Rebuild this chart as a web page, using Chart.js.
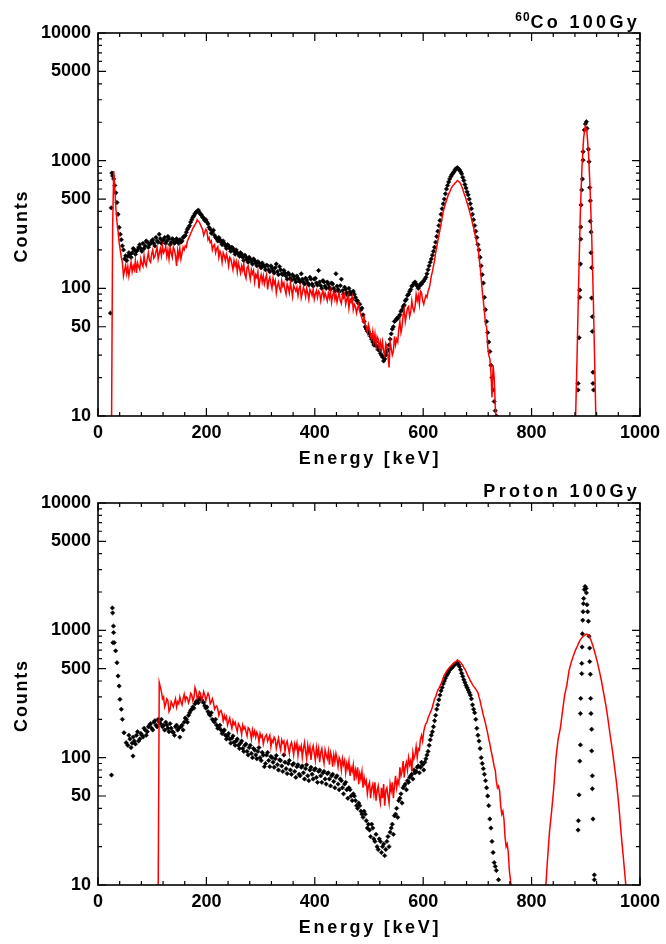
<!DOCTYPE html>
<html>
<head>
<meta charset="utf-8">
<script src="https://cdn.jsdelivr.net/npm/chart.js@4.4.1/dist/chart.umd.min.js"></script>
<style>
  body { margin: 0; background: #fff; }
  canvas { display: block; }
</style>
</head>
<body>
<canvas id="chartCo" width="666" height="470"></canvas>
<canvas id="chartPro" width="666" height="474"></canvas>
<script>
// axes
var xLabels = [0, 200, 400, 600, 800, 1000]
var xMinor = [40, 80, 120, 160, 240, 280, 320, 360, 440, 480, 520, 560, 640, 680, 720, 760, 840, 880, 920, 960]
var yLabels = [10, 50, 100, 500, 1000, 5000, 10000]
var yMinor = [20, 30, 40, 60, 70, 80, 90, 200, 300, 400, 600, 700, 800, 900, 2000, 3000, 4000, 6000, 7000, 8000, 9000]

// 60Co 100Gy - red spectrum, every 2 keV from 25 keV
var coRedStart = 25
var coRed = [8, 300, 830, 600, 420, 330, 280, 230, 200, 175,
  160, 125, 138, 152, 130, 148, 125, 142, 160, 135,
  150, 140, 165, 132, 158, 148, 140, 170, 155, 148,
  180, 158, 150, 172, 190, 165, 160, 185, 200, 172,
  178, 195, 210, 170, 188, 205, 180, 215, 190, 198,
  212, 178, 200, 170, 208, 190, 175, 210, 200, 180,
  150, 198, 175, 205, 170, 188, 210, 200, 215, 210,
  235, 245, 255, 270, 280, 295, 305, 315, 325, 345,
  335, 330, 315, 300, 290, 260, 275, 290, 280, 240,
  250, 228, 235, 200, 215, 220, 190, 205, 212, 175,
  195, 185, 160, 190, 180, 165, 185, 172, 150, 175,
  170, 155, 140, 165, 150, 162, 135, 158, 145, 132,
  150, 138, 155, 128, 120, 145, 150, 132, 118, 140,
  130, 138, 112, 128, 122, 135, 100, 118, 128, 112,
  125, 108, 118, 128, 98, 115, 122, 110, 100, 120,
  108, 115, 92, 105, 112, 100, 95, 115, 104, 110,
  98, 90, 108, 102, 92, 110, 98, 86, 105, 100,
  95, 102, 88, 100, 105, 84, 92, 102, 96, 86,
  100, 92, 82, 98, 94, 88, 98, 82, 90, 96,
  85, 95, 92, 80, 90, 96, 84, 92, 86, 80,
  92, 84, 95, 78, 88, 94, 82, 90, 78, 86,
  92, 80, 76, 88, 84, 90, 75, 82, 88, 70,
  82, 78, 85, 68, 75, 72, 64, 70, 75, 66,
  62, 58, 55, 60, 52, 50, 45, 52, 48, 42,
  40, 46, 38, 44, 36, 42, 40, 34, 38, 33,
  38, 32, 30, 37, 35, 30, 24, 38, 34, 30,
  32, 42, 36, 40, 38, 48, 55, 45, 50, 62,
  68, 55, 62, 70, 72, 60, 65, 80, 70, 66,
  72, 90, 80, 88, 75, 95, 92, 80, 75, 82,
  88, 85, 95, 100, 110, 125, 135, 150, 165, 190,
  210, 235, 260, 290, 320, 360, 400, 430, 460, 490,
  520, 550, 570, 600, 620, 640, 650, 670, 680, 700,
  690, 680, 660, 630, 600, 560, 530, 500, 465, 440,
  410, 380, 355, 325, 300, 270, 250, 225, 215, 175,
  150, 120, 95, 80, 65, 52, 50, 35, 30, 28,
  22, 14, 25, 20, 12, 9, 6]
var coRedPeak = [[881, 9], [884, 30], [887, 120], [890, 400], [893, 900], [896, 1500], [899, 1860],
  [902, 1700], [905, 1150], [908, 600], [911, 250], [914, 80], [917, 20], [919, 8]]

// 60Co 100Gy - black points (two interleaved channel sets, 4 keV apart each)
var coDotsLead = [[23, 64], [24.4, 427], [25.6, 800]]
var coDotsStart = 27
var coDots = [760, 640, 470, 300, 240, 200, 180, 178, 185, 190,
  200, 195, 210, 205, 225, 215, 230, 220, 235, 225,
  250, 230, 245, 235, 250, 235, 245, 230, 240, 230,
  235, 240, 235, 255, 275, 300, 330, 360, 385, 400,
  395, 375, 355, 345, 320, 290, 275, 260, 245, 250,
  230, 235, 215, 220, 205, 210, 195, 200, 185, 190,
  175, 182, 168, 175, 162, 170, 158, 162, 150, 158,
  148, 152, 140, 150, 138, 145, 135, 148, 130, 138,
  125, 132, 120, 128, 118, 125, 115, 130, 112, 120,
  110, 122, 108, 118, 110, 138, 105, 115, 104, 112,
  102, 110, 100, 130, 98, 105, 96, 102, 92, 100,
  90, 95, 85, 80, 75, 70, 55, 48, 46, 42,
  38, 36, 35, 33, 30, 27, 30, 33, 40, 48,
  55, 58, 60, 66, 72, 80, 88, 95, 104, 110,
  108, 100, 108, 112, 118, 130, 150, 170, 195, 230,
  280, 340, 420, 500, 600, 680, 750, 800, 850, 880,
  850, 790, 700, 610, 540, 460, 380, 310, 250, 200,
  150, 110, 68, 45, 32, 20, 13, 10]
var coDotsBStart = 29
var coDotsB = [720, 560, 380, 265, 215, 170, 165, 190, 175, 205,
  185, 200, 220, 195, 205, 235, 210, 225, 240, 215,
  235, 265, 225, 240, 225, 255, 220, 245, 225, 245,
  225, 230, 250, 260, 290, 310, 345, 370, 395, 410,
  380, 360, 340, 330, 300, 270, 285, 250, 235, 240,
  220, 225, 205, 215, 195, 205, 185, 190, 178, 185,
  165, 175, 160, 168, 155, 165, 150, 158, 145, 152,
  140, 150, 135, 145, 132, 155, 128, 140, 128, 132,
  118, 128, 116, 124, 112, 120, 112, 118, 108, 116,
  106, 118, 104, 120, 106, 112, 100, 112, 100, 108,
  98, 108, 95, 104, 94, 118, 90, 98, 88, 94,
  82, 90, 80, 76, 68, 62, 50, 46, 44, 40,
  36, 38, 33, 31, 29, 28, 32, 36, 44, 50,
  56, 58, 62, 68, 74, 82, 90, 98, 106, 112,
  104, 104, 108, 114, 122, 140, 160, 182, 210, 255,
  310, 380, 460, 550, 640, 720, 780, 820, 870, 860,
  820, 740, 650, 570, 500, 420, 345, 280, 220, 175,
  128, 85, 55, 38, 25, 16, 11]
var coDotsPeak = [[885.8, 16], [885.8, 18], [887.7, 41], [888.9, 85], [888.9, 97], [890.1, 155], [890.7, 243],
  [890.7, 302], [891.3, 450], [892.5, 590], [893.8, 718], [895, 1010], [895, 1175], [897.4, 1740], [899.3, 1940],
  [901.1, 2020], [902.3, 1790], [904.8, 1230], [906, 980], [907.2, 615], [908.4, 485], [908.4, 335], [909.7, 276],
  [909.7, 190], [910.9, 145], [910.9, 84], [912.1, 60], [912.1, 46], [913.3, 22], [913.3, 18], [914.5, 16]]

// Proton 100Gy - red spectrum, every 2 keV from 113 keV
var proRedLead = [[111, 8]]
var proRedStart = 113
var proRed = [390, 360, 330, 290, 300, 250, 265, 290, 280, 230,
  240, 275, 262, 250, 270, 290, 250, 275, 265, 300,
  275, 260, 290, 315, 280, 300, 295, 270, 285, 320,
  310, 280, 295, 355, 335, 290, 300, 330, 320, 280,
  295, 330, 310, 280, 300, 320, 305, 265, 275, 290,
  270, 240, 250, 255, 240, 215, 230, 235, 220, 195,
  215, 200, 210, 180, 192, 205, 185, 170, 195, 182,
  190, 172, 160, 185, 178, 170, 152, 180, 168, 175,
  160, 148, 172, 168, 158, 140, 165, 150, 162, 145,
  158, 150, 132, 155, 145, 150, 128, 140, 148, 152,
  135, 142, 150, 122, 138, 132, 145, 140, 118, 130,
  142, 125, 115, 138, 130, 135, 112, 128, 135, 120,
  108, 125, 132, 120, 105, 128, 118, 130, 104, 122,
  115, 124, 100, 118, 132, 112, 98, 125, 110, 122,
  96, 115, 124, 108, 95, 120, 105, 118, 92, 110,
  118, 100, 90, 115, 105, 98, 112, 88, 110, 102,
  85, 105, 92, 108, 98, 85, 100, 95, 80, 98,
  88, 95, 76, 90, 82, 94, 72, 84, 78, 88,
  66, 80, 72, 84, 62, 75, 68, 78, 58, 70,
  62, 66, 52, 60, 64, 48, 58, 62, 52, 64,
  46, 55, 60, 50, 44, 58, 48, 62, 42, 55,
  58, 50, 44, 62, 55, 64, 48, 60, 72, 58,
  66, 62, 84, 72, 78, 94, 70, 85, 92, 80,
  100, 88, 95, 78, 110, 98, 105, 122, 100, 118,
  115, 140, 150, 135, 160, 175, 185, 190, 205, 215,
  225, 235, 250, 270, 290, 300, 320, 340, 350, 365,
  380, 400, 425, 445, 460, 475, 490, 500, 515, 525,
  535, 545, 555, 565, 570, 585, 578, 570, 560, 545,
  530, 510, 495, 475, 455, 435, 420, 400, 390, 375,
  365, 355, 345, 335, 325, 300, 280, 255, 235, 215,
  200, 185, 170, 155, 140, 128, 115, 105, 95, 85,
  80, 65, 58, 60, 55, 42, 36, 38, 33, 24,
  20, 21, 18, 13, 11, 9, 8]
var proRedPeakStart = 825
var proRedPeak = [8, 15, 26, 38, 58, 100, 140, 170, 230, 310, 370, 480, 560, 630, 700, 760, 830, 880, 910, 935,
  920, 850, 760, 660, 570, 480, 400, 320, 260, 200, 150, 115, 85, 62, 42, 26, 17, 11, 7]

// Proton 100Gy - black points
var proDotsLead = [[24.9, 73], [26.5, 1500], [27, 1370], [27.5, 800], [28.5, 1080], [28.8, 960], [30, 800],
  [32.5, 690], [35, 557], [37, 438], [39, 365], [40.5, 287], [43, 240], [45, 200], [48, 157], [52, 131], [64.6, 103]]
var proDotsStart = 55
var proDots = [125, 140, 130, 135, 150, 135, 155, 145, 165, 160,
  180, 170, 190, 180, 200, 185, 175, 165, 180, 160,
  170, 158, 175, 165, 145, 180, 190, 200, 215, 235,
  250, 265, 280, 290, 285, 270, 245, 230, 215, 200,
  190, 180, 172, 165, 160, 150, 148, 140, 142, 132,
  135, 125, 130, 118, 125, 112, 120, 108, 118, 105,
  112, 100, 110, 85, 105, 95, 102, 92, 98, 88,
  96, 86, 105, 82, 90, 80, 88, 78, 85, 74,
  84, 76, 82, 72, 80, 74, 80, 70, 78, 72,
  76, 68, 75, 68, 72, 65, 70, 62, 68, 58,
  62, 56, 58, 50, 52, 46, 40, 42, 36, 38,
  32, 30, 24, 28, 22, 20, 23, 18, 21, 19,
  24, 26, 30, 35, 40, 46, 52, 58, 62, 66,
  70, 74, 80, 78, 86, 84, 88, 92, 105, 125,
  150, 175, 215, 260, 310, 355, 400, 440, 470, 500,
  520, 545, 555, 520, 460, 410, 370, 340, 310, 260,
  225, 170, 135, 100, 82, 66, 50, 33, 22, 15,
  13, 11]
var proDotsBStart = 57
var proDotsB = [150, 120, 145, 128, 160, 140, 150, 170, 150, 175,
  185, 165, 195, 175, 190, 200, 180, 190, 170, 185,
  160, 150, 180, 170, 175, 165, 205, 190, 225, 240,
  245, 275, 270, 295, 275, 255, 250, 220, 225, 195,
  200, 170, 180, 155, 165, 140, 155, 130, 148, 125,
  140, 118, 135, 112, 128, 105, 125, 100, 115, 98,
  120, 95, 105, 90, 110, 85, 100, 84, 104, 80,
  95, 78, 92, 75, 95, 74, 90, 70, 88, 72,
  86, 68, 88, 66, 84, 68, 82, 64, 80, 64,
  78, 62, 76, 60, 74, 58, 72, 56, 66, 52,
  64, 48, 56, 46, 50, 42, 44, 38, 34, 36,
  28, 27, 30, 23, 25, 19, 22, 20, 17, 22,
  20, 28, 25, 36, 34, 48, 44, 60, 56, 64,
  72, 68, 76, 84, 76, 92, 80, 98, 112, 138,
  160, 195, 240, 285, 335, 380, 420, 455, 490, 510,
  535, 550, 540, 490, 435, 390, 355, 325, 290, 240,
  200, 150, 118, 90, 74, 58, 42, 28, 18, 14]
var proDotsPeak = [[885.8, 27], [886.4, 32], [887.6, 51], [888.9, 94], [890.1, 126], [890.1, 222], [890.7, 292],
  [892.6, 457], [892.6, 550], [893.2, 740], [893.8, 940], [894.4, 1200], [895, 1400], [895.6, 1620], [896.2, 1780],
  [897.4, 2090], [898.7, 2210], [900.5, 2130], [901.1, 1970], [902.3, 1590], [903.5, 1400], [904.8, 1180],
  [906, 900], [907.2, 725], [907.2, 568], [908.4, 452], [909, 292], [909.6, 222], [910.9, 167], [910.9, 113],
  [912.1, 72], [912.1, 57], [913.3, 33], [915.8, 12], [915.8, 11]]

function naGrade(start, step, counts) {
    return counts.map((c, i) => ({ x: start + i * step, y: c }))
}

function dosPares(pares) {
    return pares.map(p => ({ x: p[0], y: p[1] }))
}

const fonte = { family: 'Liberation Sans', size: 18, weight: 'bold' }

// moldura, marcas internas e textos no estilo IDL
const moldura = {
    id: 'moldura',
    afterDraw(chart, args, opts) {
        const ctx = chart.ctx
        const a = chart.chartArea
        const x = chart.scales.x
        const y = chart.scales.y
        ctx.save()
        ctx.strokeStyle = '#000'
        ctx.lineWidth = 1.6
        ctx.strokeRect(a.left, a.top, a.right - a.left, a.bottom - a.top)

        ctx.lineWidth = 1.2
        ctx.beginPath()
        xLabels.concat(xMinor).forEach(v => {
            const px = x.getPixelForValue(v)
            const len = xLabels.includes(v) ? 8 : 4
            ctx.moveTo(px, a.bottom); ctx.lineTo(px, a.bottom - len)
            ctx.moveTo(px, a.top); ctx.lineTo(px, a.top + len)
        })
        yLabels.concat(yMinor).forEach(v => {
            const py = y.getPixelForValue(v)
            const len = yLabels.includes(v) ? 8 : 4
            ctx.moveTo(a.left, py); ctx.lineTo(a.left + len, py)
            ctx.moveTo(a.right, py); ctx.lineTo(a.right - len, py)
        })
        ctx.stroke()

        ctx.fillStyle = '#000'
        ctx.font = 'bold 18px "Liberation Sans"'
        ctx.textBaseline = 'alphabetic'

        // titulo do painel
        ctx.letterSpacing = '3.3px'
        ctx.textAlign = 'right'
        ctx.fillText(opts.titulo, 640, opts.base)
        if (opts.sup) {
            const w = ctx.measureText(opts.titulo).width
            ctx.font = 'bold 12px "Liberation Sans"'
            ctx.letterSpacing = '1px'
            ctx.fillText(opts.sup, 640 - w, opts.base - 7)
            ctx.font = 'bold 18px "Liberation Sans"'
        }

        // eixo x
        ctx.letterSpacing = '2.7px'
        ctx.textAlign = 'center'
        ctx.fillText('Energy [keV]', (a.left + a.right) / 2 + 1, a.bottom + 48)

        // eixo y
        ctx.letterSpacing = '1.8px'
        ctx.translate(22, (a.top + a.bottom) / 2 + 1.5)
        ctx.rotate(-Math.PI / 2)
        ctx.textBaseline = 'middle'
        ctx.fillText('Counts', 0, 0)
        ctx.restore()
    }
}

function plotarGrafico(id, alturaEixoX, titulo, sup, base, pontos, linha) {
    const config = {
        type: 'scatter',
        data: {
            datasets: [{
                label: 'linha',
                data: linha,
                showLine: true,
                borderColor: '#ff0000',
                borderWidth: 1.5,
                pointRadius: 0,
                order: 0
            },
            {
                label: 'pontos',
                data: pontos,
                pointStyle: 'rectRot',
                pointRadius: 2.2,
                backgroundColor: '#000',
                borderColor: '#000',
                borderWidth: 0.6,
                order: 1
            }]
        },
        options: {
            responsive: false,
            animation: false,
            layout: { padding: { top: 33, right: 22, left: 0, bottom: 0 } },
            plugins: {
                legend: { display: false },
                tooltip: { enabled: false },
                moldura: { titulo: titulo, sup: sup, base: base }
            },
            scales: {
                x: {
                    type: 'linear',
                    min: 0,
                    max: 1000,
                    grid: { display: false, drawTicks: false },
                    border: { display: false },
                    afterBuildTicks: s => { s.ticks = xLabels.map(v => ({ value: v })) },
                    afterFit: s => { s.height = alturaEixoX },
                    ticks: { color: '#000', font: fonte, padding: 6, maxRotation: 0, callback: v => String(v) }
                },
                y: {
                    type: 'logarithmic',
                    min: 10,
                    max: 10000,
                    grid: { display: false, drawTicks: false },
                    border: { display: false },
                    afterBuildTicks: s => { s.ticks = yLabels.map(v => ({ value: v })) },
                    afterFit: s => { s.width = 98 },
                    ticks: { color: '#000', font: fonte, padding: 7, callback: v => String(v) }
                }
            }
        },
        plugins: [moldura]
    }
    return new Chart(document.getElementById(id), config)
}

plotarGrafico('chartCo', 54, 'Co 100Gy', '60', 28,
    dosPares(coDotsLead).concat(naGrade(coDotsStart, 4, coDots), naGrade(coDotsBStart, 4, coDotsB), dosPares(coDotsPeak)),
    naGrade(coRedStart, 2, coRed).concat(dosPares(coRedPeak)))

plotarGrafico('chartPro', 59, 'Proton 100Gy', null, 27,
    dosPares(proDotsLead).concat(naGrade(proDotsStart, 4, proDots), naGrade(proDotsBStart, 4, proDotsB), dosPares(proDotsPeak)),
    dosPares(proRedLead).concat(naGrade(proRedStart, 2, proRed), naGrade(proRedPeakStart, 4, proRedPeak)))
</script>
</body>
</html>
